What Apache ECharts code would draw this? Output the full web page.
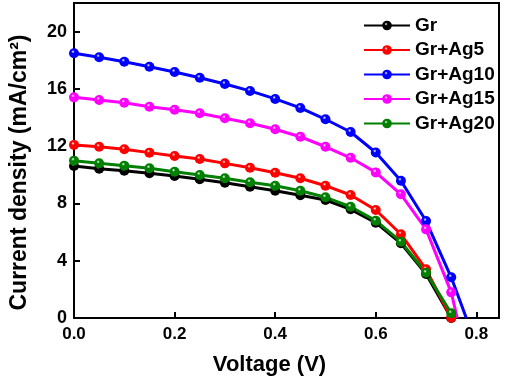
<!DOCTYPE html>
<html>
<head>
<meta charset="utf-8">
<script src="https://cdn.jsdelivr.net/npm/echarts@6/dist/echarts.min.js"></script>
<style>
    html, body { margin: 0; padding: 0; background: #fff; }
    #chart { width: 505px; height: 381px; }
</style>
</head>
<body>
<div id="chart"></div>
<script>
    // J-V curves, voltage step 0.05 V
    var voltage = [0, 0.05, 0.10, 0.15, 0.20, 0.25, 0.30, 0.35, 0.40, 0.45, 0.50, 0.55, 0.60, 0.65, 0.70, 0.75];

    var seriesNames = ['Gr', 'Gr+Ag5', 'Gr+Ag10', 'Gr+Ag15', 'Gr+Ag20'];
    var seriesColors = ['#000000', '#ff0000', '#0000ff', '#ff00ff', '#008000'];

    var currentGr     = [10.62, 10.43, 10.29, 10.11, 9.92, 9.69, 9.45, 9.17, 8.89, 8.57, 8.24, 7.59, 6.66, 5.22, 3.07, 0.00];
    var currentAg5    = [12.09, 11.96, 11.78, 11.55, 11.31, 11.10, 10.80, 10.49, 10.15, 9.76, 9.24, 8.59, 7.54, 5.85, 3.40, 0.02];
    var currentAg10   = [18.49, 18.21, 17.90, 17.55, 17.18, 16.78, 16.34, 15.86, 15.30, 14.67, 13.88, 12.99, 11.56, 9.59, 6.77, 2.84];
    var currentAg15   = [15.41, 15.23, 15.04, 14.76, 14.55, 14.30, 13.95, 13.60, 13.18, 12.66, 11.96, 11.19, 10.17, 8.64, 6.19, 1.79];
    var currentAg20   = [10.99, 10.80, 10.64, 10.46, 10.22, 9.99, 9.76, 9.48, 9.24, 8.89, 8.43, 7.77, 6.80, 5.33, 3.16, 0.33];
    var currents = [currentGr, currentAg5, currentAg10, currentAg15, currentAg20];

    // open-circuit end points (line reaches J = 0 past the last marker)
    var vocEnd = [null, null, 0.78, 0.762, null];

    function ballColor(c) {
        return {
            type: 'radial', x: 0.4, y: 0.35, r: 0.7,
            colorStops: [
                {offset: 0, color: '#ffffff'},
                {offset: 0.25, color: c},
                {offset: 1, color: c}
            ]
        };
    }

    var series = [];
    for (var i = 0; i < seriesNames.length; i++) {
        var pts = [];
        for (var k = 0; k < voltage.length; k++) {
            pts.push([voltage[k], currents[i][k]]);
        }
        if (vocEnd[i] !== null) {
            pts.push({value: [vocEnd[i], 0], symbol: 'none'});
        }
        series.push({
            name: seriesNames[i],
            type: 'line',
            data: pts,
            symbol: 'circle',
            symbolSize: 10,
            clip: false,
            lineStyle: {color: seriesColors[i], width: 3},
            itemStyle: {color: ballColor(seriesColors[i]), borderWidth: 0},
            emphasis: {disabled: true}
        });
    }

    var myChart = echarts.init(document.getElementById('chart'));
    var option = {
        animation: false,
        grid: {
            left: 70, right: 6, top: 3, bottom: 63,
            show: true,
            borderColor: '#000',
            borderWidth: 2
        },
        legend: {
            orient: 'vertical',
            left: 358,
            top: 11,
            itemWidth: 46,
            itemHeight: 12,
            itemGap: 5.5,
            data: seriesNames,
            textStyle: {
                fontFamily: 'Liberation Sans',
                fontWeight: 'bold',
                fontSize: 19,
                lineHeight: 19,
                color: '#000'
            }
        },
        xAxis: {
            type: 'value',
            min: 0,
            max: 0.845,
            interval: 0.2,
            name: 'Voltage (V)',
            nameLocation: 'middle',
            nameGap: 36,
            nameTextStyle: {
                fontFamily: 'Liberation Sans',
                fontWeight: 'bold',
                fontSize: 22,
                color: '#000',
                padding: [0, 34, 0, 0]
            },
            axisLine: {lineStyle: {color: '#000', width: 2}},
            axisTick: {inside: true, length: 6, lineStyle: {color: '#000', width: 2}},
            splitLine: {show: false},
            axisLabel: {
                showMaxLabel: false,
                margin: 8,
                fontFamily: 'Liberation Sans',
                fontWeight: 'bold',
                fontSize: 17,
                color: '#000',
                formatter: function (v) { return v.toFixed(1); }
            }
        },
        yAxis: {
            type: 'value',
            min: 0,
            max: 22,
            interval: 4,
            name: 'Current density (mA/cm²)',
            nameLocation: 'middle',
            nameGap: 43,
            nameTextStyle: {
                fontFamily: 'Liberation Sans',
                fontWeight: 'bold',
                fontSize: 23,
                color: '#000',
                padding: [0, 24, 0, 0]
            },
            axisLine: {lineStyle: {color: '#000', width: 2}},
            axisTick: {inside: true, length: 6, lineStyle: {color: '#000', width: 2}},
            splitLine: {show: false},
            axisLabel: {
                showMaxLabel: false,
                margin: 7,
                fontFamily: 'Liberation Sans',
                fontWeight: 'bold',
                fontSize: 18,
                color: '#000'
            }
        },
        series: series
    };
    myChart.setOption(option);
</script>
</body>
</html>
